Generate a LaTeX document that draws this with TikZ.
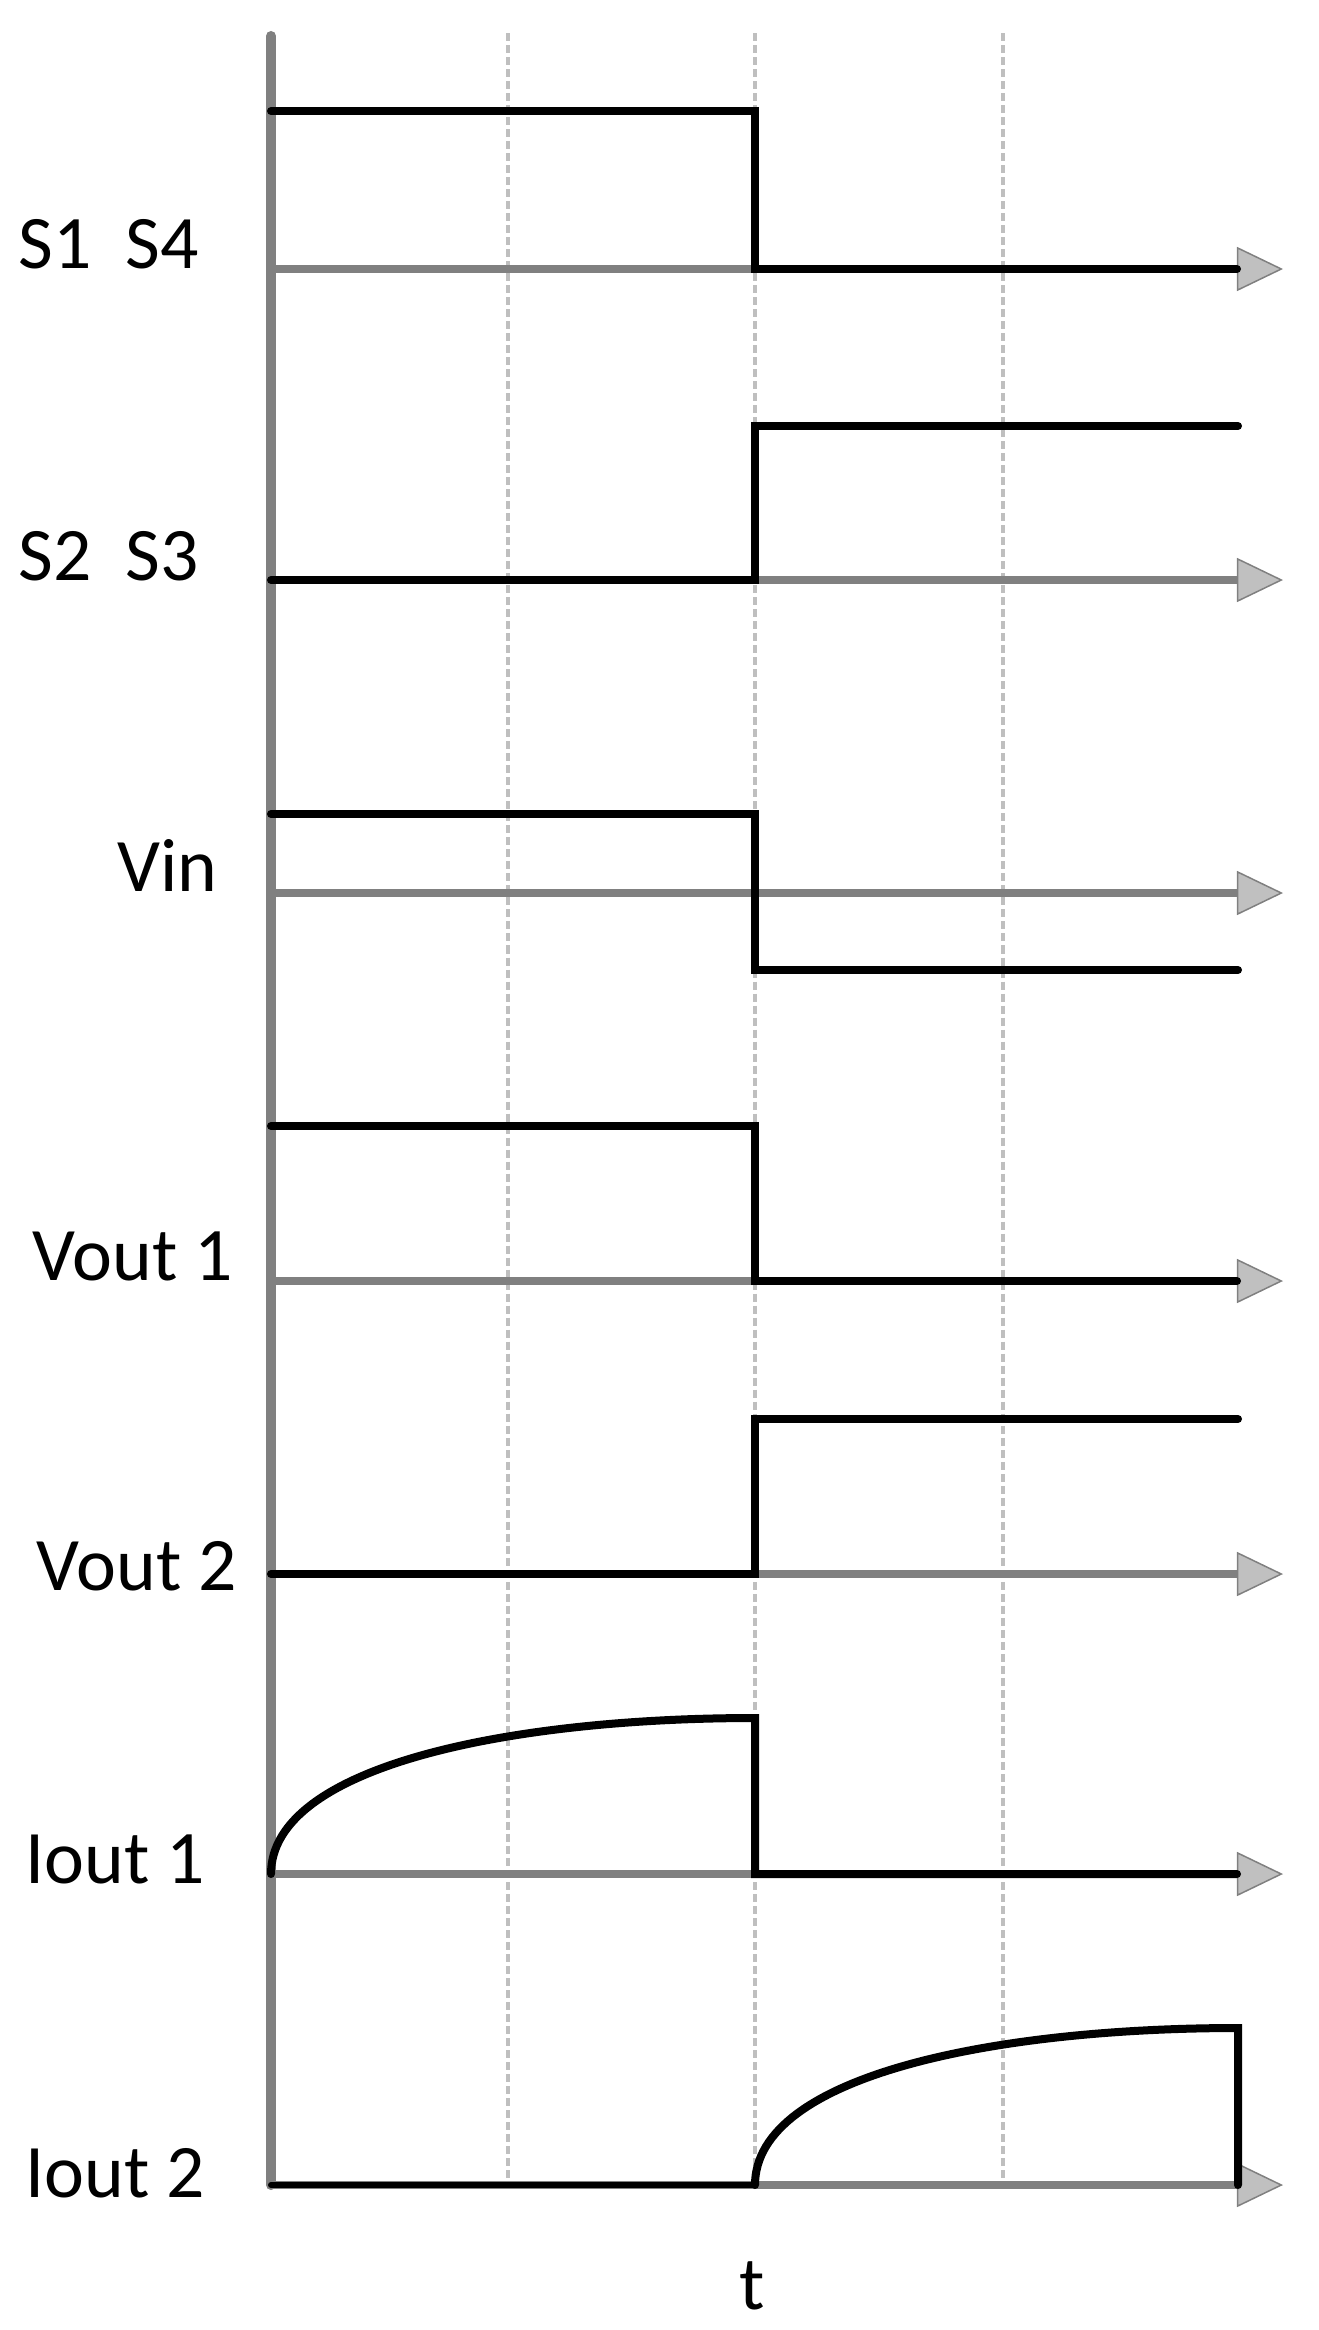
\documentclass[tikz,border=0pt]{standalone}
\usepackage{fontspec}
\setmainfont{Carlito}
\usetikzlibrary{arrows.meta}
\definecolor{axgray}{HTML}{808080}
\definecolor{gridgray}{HTML}{BFBFBF}
\definecolor{tipgray}{HTML}{C0C0C0}
\begin{document}
\begin{tikzpicture}[x=0.01cm,y=-0.01cm,
	taxis/.style={color=axgray,line width=0.1cm,line cap=round},
	zeroline/.style={color=axgray,line width=0.075cm,
		-{Triangle[width=0.44cm,length=0.46cm,fill=tipgray,line width=0.015cm]}},
	gridline/.style={color=gridgray,line width=0.045cm,dash pattern=on 0.08cm off 0.04cm},
	signal/.style={line width=0.08cm,line cap=round},
	lbl/.style={anchor=base west,font=\fontsize{21.5}{26}\selectfont,inner sep=0pt}]
\useasboundingbox (0,0) rectangle (1318,2330);

% dashed time grid
\foreach \gx in {508,755,1003}{
	\draw[gridline] (\gx,33)--(\gx,2182);
}
% axes
\draw[taxis] (271,36)--(271,2185);
\foreach \by in {269,580,893,1281,1574,1874,2185}{
	\draw[zeroline] (271,\by)--(1283,\by);
}

% switches
\draw[signal] (271,111)--(755,111)--(755,269)--(1237,269);
\draw[signal] (271,580)--(755,580)--(755,426)--(1238,426);
% voltages
\draw[signal] (271,814)--(755,814)--(755,970)--(1238,970);
\draw[signal] (271,1126)--(755,1126)--(755,1281)--(1237,1281);
\draw[signal] (271,1574)--(755,1574)--(755,1419)--(1238,1419);
% currents
\draw[signal] (271,1874) .. controls (271,1765) and (513,1718) .. (755,1718)
	--(755,1874)--(1237,1874);
\draw[signal,line width=0.06cm] (271,2185)--(755,2185);
\draw[signal] (755,2185) .. controls (755,2075) and (996,2028) .. (1238,2028)
	--(1238,2185);

\node[lbl] (ls14) at (18,268) {S1\ \ S4};
\node[lbl] (ls23) at (18,580) {S2\ \ S3};
\node[lbl] (lvin) at (117,891) {Vin};
\node[lbl] (lvo1) at (32,1280) {Vout 1};
\node[lbl] (lvo2) at (36,1590) {Vout 2};
\node[lbl] (lio1) at (25,1883) {Iout 1};
\node[lbl] (lio2) at (25,2197) {Iout 2};
\node[lbl,anchor=base] (lt) at (752,2309) {t};

\end{tikzpicture}
\end{document}
